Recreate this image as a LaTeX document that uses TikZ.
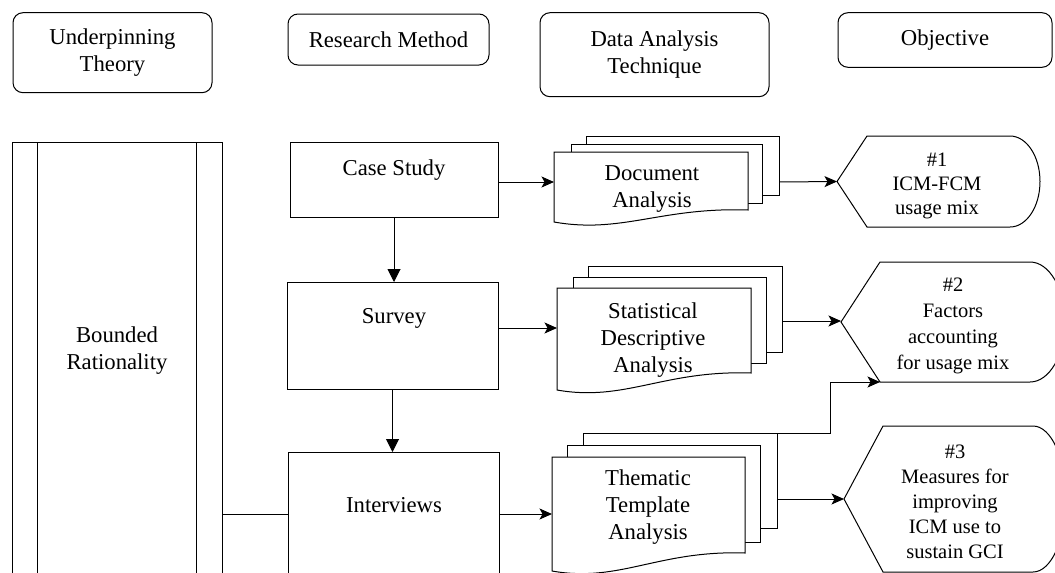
\documentclass[tikz,border=0pt]{standalone}
\usepackage{fontspec}
\setmainfont{Liberation Serif}
\usetikzlibrary{arrows.meta,calc}
\begin{document}
\begin{tikzpicture}[x=1pt,y=-1pt,
  every node/.style={inner sep=0pt,outer sep=0pt},
  shp/.style={draw=black,line width=1pt,fill=white},
  hdr/.style={shp,rectangle,rounded corners=10pt},
  txt/.style={align=center,font=\fontsize{22.7}{27}\selectfont},
  stxt/.style={align=center,font=\fontsize{20.5}{25}\selectfont},
  ln/.style={line width=1pt},
  arr/.style={line width=1pt,-{Stealth[length=12.5pt,width=11pt,inset=3pt]}},
  darr/.style={line width=1pt,-{Triangle[length=13pt,width=13pt]}}]
\useasboundingbox (0,0) rectangle (1055,573);
\clip (0,0) rectangle (1055,573);

% headers
\node[hdr,txt,minimum width=199pt,minimum height=80pt] (h1) at (112.5,52.7) {Underpinning\\Theory};
\node[hdr,txt,minimum width=201pt,minimum height=51pt] (h2) at (388.5,39.5) {Research Method};
\node[hdr,txt,minimum width=229pt,minimum height=84pt] (h3) at (654.5,54.7) {Data Analysis\\Technique};
\node[hdr,txt,minimum width=214pt,minimum height=54.6pt] (h4) at (945,40) {Objective};

% bounded rationality (predefined process)
\node[shp,minimum width=210pt,minimum height=460pt] (br) at (117,372) {};
\draw[ln] ($(br.north west)+(25,0)$) -- ($(br.south west)+(25,0)$);
\draw[ln] ($(br.north east)+(-26,0)$) -- ($(br.south east)+(-26,0)$);
\node[txt] (brt) at (117,351) {Bounded\\Rationality};

% research methods
\node[shp,minimum width=208pt,minimum height=75pt] (cs) at (394,179.5) {};
\node[txt] (cst) at (394,170) {Case Study};
\node[shp,minimum width=211pt,minimum height=107pt] (sv) at (392.5,335.5) {};
\node[txt] (svt) at (394,318) {Survey};
\node[shp,minimum width=211pt,minimum height=124pt] (iv) at (393.5,514) {};
\node[txt] (ivt) at (394,505) {Interviews};

\draw[darr] (cs.south) -- (cs.south |- sv.north);
\draw[darr] (sv.south) -- (sv.south |- iv.north);
\draw[ln] (br.east |- iv.west) -- (iv.west);

% multi-document 1
\draw[shp] (586,136) rectangle (779,195);
\draw[shp] (571,144) rectangle (762,203);
\draw[shp] (554,152) -- (748,152) -- (748,210) .. controls (660.7,207) and (621.9,234) .. (554,222) -- cycle;
\node[txt] (d1t) at (652,189) {Document\\Analysis};
\coordinate (d1in) at (554,182);
\coordinate (d1out) at (779,182);

% multi-document 2
\draw[shp] (588,266) rectangle (782,352);
\draw[shp] (573,277) rectangle (766,363);
\draw[shp] (557,288) -- (751,288) -- (751,373) .. controls (663.7,370) and (624.9,402) .. (557,390) -- cycle;
\node[txt] (d2t) at (653,340) {Statistical\\Descriptive\\Analysis};
\coordinate (d2in) at (557,328);
\coordinate (d2out) at (782,321);

% multi-document 3
\draw[shp] (583,433) rectangle (777,528);
\draw[shp] (567,445) rectangle (760,542);
\draw[shp] (552,457) -- (745,457) -- (745,553) .. controls (658.2,550) and (619.6,583) .. (552,571) -- cycle;
\node[txt] (d3t) at (648,507.5) {Thematic\\Template\\Analysis};
\coordinate (d3in) at (552,514);
\coordinate (d3out) at (777,499);
\coordinate (d3tr) at (777,433);

% objectives (display shapes)
\draw[shp] (837,181.5) -- (867,136) -- (1010,136) .. controls (1026.6,136) and (1040,156.4) .. (1040,181.5) .. controls (1040,206.6) and (1026.6,227) .. (1010,227) -- (867,227) -- cycle;
\coordinate (o1) at (837,181.5);
\node[stxt,font=\fontsize{20.5}{24}\selectfont] (o1t) at (937,186) {\#1\\ICM-FCM\\usage mix};

\draw[shp] (841,322) -- (880,262) -- (1030,262) .. controls (1049.3,262) and (1065,288.9) .. (1065,322) .. controls (1065,355.1) and (1049.3,382) .. (1030,382) -- (880,382) -- cycle;
\coordinate (o2) at (841,322);
\coordinate (o2bl) at (880,382);
\node[stxt,font=\fontsize{20.5}{26}\selectfont] (o2t) at (953,325.5) {\#2\\Factors\\accounting\\for usage mix};

\draw[shp] (844,499) -- (883,426) -- (1033,426) .. controls (1051.2,426) and (1066,458.7) .. (1066,499) .. controls (1066,539.3) and (1051.2,572) .. (1033,572) -- (883,572) -- cycle;
\coordinate (o3) at (844,499);
\node[stxt] (o3t) at (955,502) {\#3\\Measures for\\improving\\ICM use to\\sustain GCI};

% connectors
\draw[arr] (cs.east |- d1in) -- (d1in);
\draw[arr] (sv.east |- d2in) -- (d2in);
\draw[arr] (iv.east |- d3in) -- (d3in);
\draw[arr] (d1out) -- (o1);
\draw[arr] (d2out) -- (o2 |- d2out);
\draw[arr] (d3out) -- (o3);
\draw[arr] (d3tr) -- ++(53,0) |- (o2bl);
\end{tikzpicture}
\end{document}
